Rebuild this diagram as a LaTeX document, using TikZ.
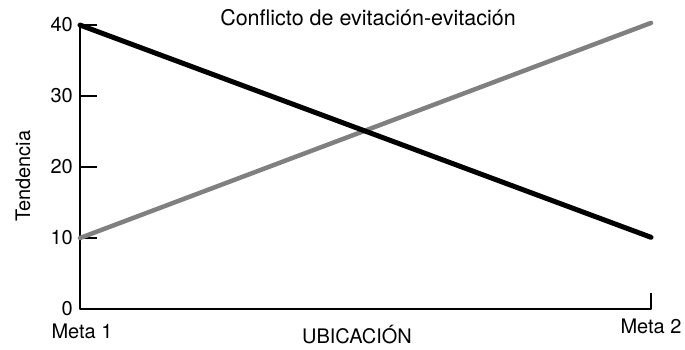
\documentclass[tikz,border=0pt]{standalone}
\usepackage{fontspec}
\setmainfont{TeX Gyre Heros}
\definecolor{grisline}{RGB}{128,128,128}
\begin{document}
\begin{tikzpicture}[x=1pt,y=-1pt,line join=round,font=\fontsize{20}{24}\selectfont]
	\useasboundingbox (0,0) rectangle (685,349);
	\begin{scope}[shift={(80,309)},yscale=-7.1]
		\def\w{571}
		% ejes
		\draw[line width=2.4pt] (0,40.2)--(0,0)--(\w,0)--(\w,2.2);
		\foreach \v in {10,20,30,40}
			\draw[line width=2.4pt] (0,\v)--+(17,0);
		\foreach \v in {0,10,20,30,40}
			\node[anchor=east,inner sep=0pt] (t\v) at (-7,\v) {\v};
		\node[anchor=base,inner sep=0pt] (m1) at (2,-4.2) {Meta 1};
		\node[anchor=base,inner sep=0pt] (m2) at (\w,-3.4) {Meta 2};
		\node[anchor=base,inner sep=0pt] (ub) at (277,-4.9) {UBICACIÓN};
		\node[rotate=90,inner sep=0pt] (td) at (-57,18.7) {Tendencia};
		\node[inner sep=0pt,font=\fontsize{21.5}{24}\selectfont] (tit) at (288,41.1) {Conflicto de evitación-evitación};
		% rectas
		\coordinate (A) at (0,40);
		\coordinate (B) at (\w,10.1);
		\coordinate (C) at (0,10);
		\coordinate (D) at (\w,40.3);
		\draw[grisline,line width=4.5pt,line cap=round] (C)--(D);
		\draw[line width=5pt,line cap=round] (A)--(B);
	\end{scope}
\end{tikzpicture}
\end{document}
